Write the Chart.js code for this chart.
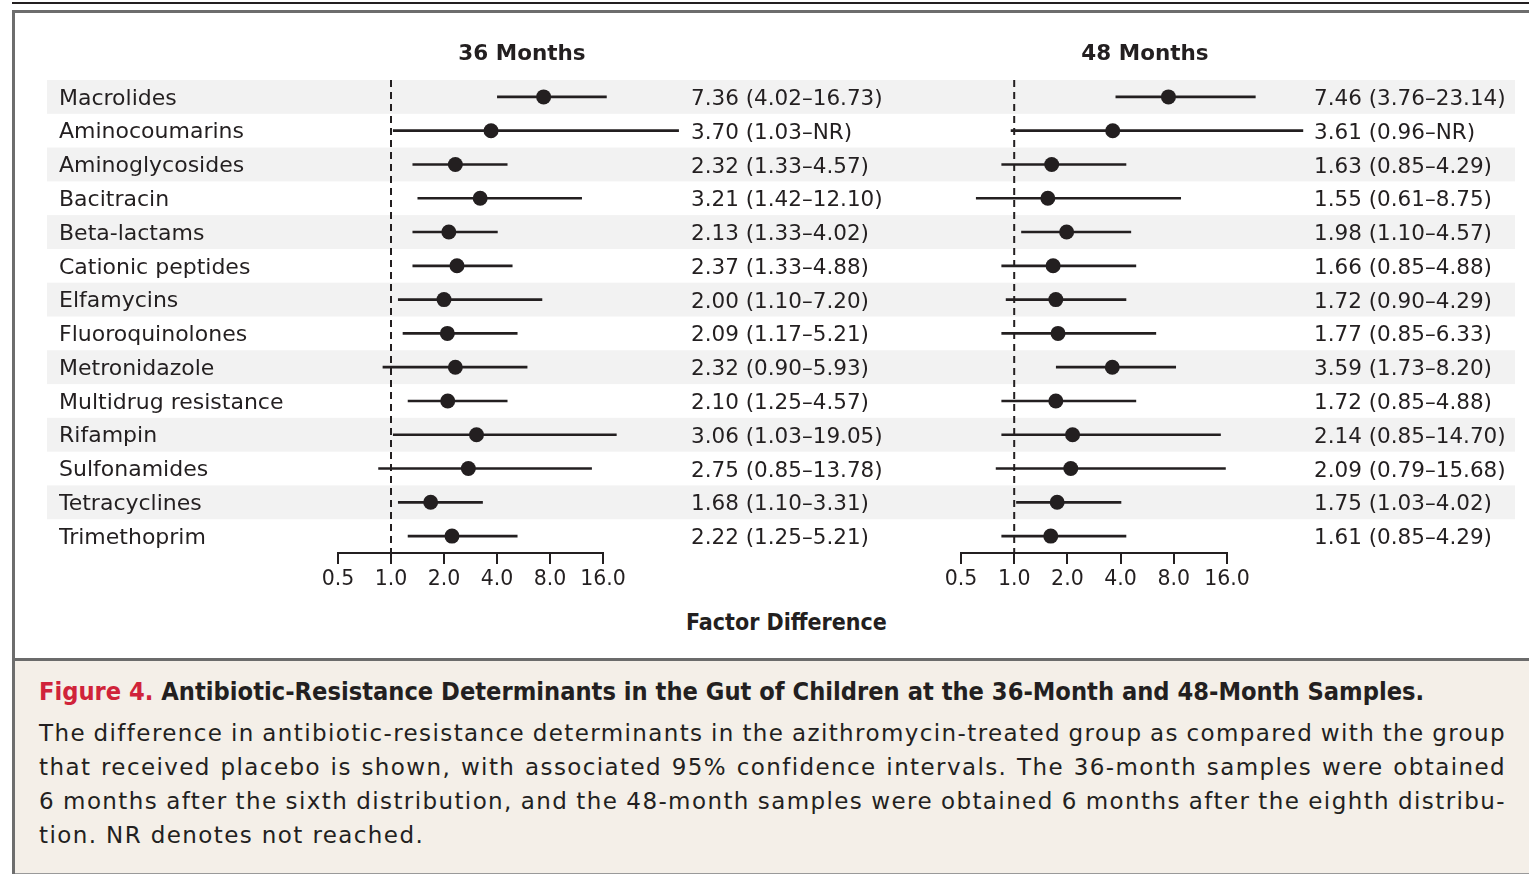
<!DOCTYPE html>
<html>
<head>
<meta charset="utf-8">
<script src="https://cdn.jsdelivr.net/npm/chart.js@4.4.1/dist/chart.umd.min.js"></script>
<style>
  body { margin:0; width:1529px; height:874px; overflow:hidden; background:#fff; position:relative;
         font-family:"DejaVu Sans", sans-serif; color:#231f20; }
  #topLine { position:absolute; left:12px; top:2px; width:1517px; height:2px; background:#231f20; }
  #frame { position:absolute; left:12px; top:10px; width:1517px; height:864px; box-sizing:border-box;
           border-top:3px solid #6d6d6d; border-left:3px solid #6d6d6d; }
  canvas { position:absolute; top:0; }
  #c36 { left:0; }
  #c48 { left:900px; }
  .panelTitle { position:absolute; top:39px; line-height:28px; font-weight:bold; font-size:21.5px;
                transform:translateX(-50%); white-space:nowrap; }
  #axisTitle { position:absolute; left:686px; top:607px; line-height:30px; font-family:"DejaVu Sans Condensed", sans-serif;
               font-weight:bold; font-size:23px; white-space:nowrap; }
  #caption { position:absolute; left:15px; top:658px; width:1514px; height:216px; box-sizing:border-box;
             background:#f4efe8; border-top:3px solid #6b6b6b; border-bottom:1px solid #9a9a9a; }
  #capTitle { position:absolute; left:24px; top:14px; line-height:34px; font-family:"DejaVu Sans Condensed", sans-serif;
              font-weight:bold; font-size:25.2px; white-space:nowrap; }
  #capTitle span { color:#d0233a; }
  .capLine { position:absolute; left:24px; line-height:34px; font-size:23px; letter-spacing:1.4px; white-space:nowrap; }
</style>
</head>
<body>
<div id="topLine"></div>
<div id="frame"></div>
<canvas id="c36" width="900" height="600"></canvas>
<canvas id="c48" width="629" height="600"></canvas>
<div class="panelTitle" style="left:522px">36 Months</div>
<div class="panelTitle" style="left:1145px">48 Months</div>
<div id="axisTitle">Factor Difference</div>
<div id="caption">
  <div id="capTitle"><span>Figure 4.</span> Antibiotic-Resistance Determinants in the Gut of Children at the 36-Month and 48-Month Samples.</div>
  <div class="capLine just" style="top:55px">The difference in antibiotic-resistance determinants in the azithromycin-treated group as compared with the group</div>
  <div class="capLine just" style="top:89px">that received placebo is shown, with associated 95% confidence intervals. The 36-month samples were obtained</div>
  <div class="capLine just" style="top:123px">6 months after the sixth distribution, and the 48-month samples were obtained 6 months after the eighth distribu-</div>
  <div class="capLine" style="top:157px">tion. NR denotes not reached.</div>
</div>
<script>
const categories = ['Macrolides', 'Aminocoumarins', 'Aminoglycosides', 'Bacitracin', 'Beta-lactams',
  'Cationic peptides', 'Elfamycins', 'Fluoroquinolones', 'Metronidazole', 'Multidrug resistance',
  'Rifampin', 'Sulfonamides', 'Tetracyclines', 'Trimethoprim'];

// 36 months: point estimate, lower and upper 95% CI (null = not reached)
const est36 = [7.36, 3.70, 2.32, 3.21, 2.13, 2.37, 2.00, 2.09, 2.32, 2.10, 3.06, 2.75, 1.68, 2.22];
const lo36  = [4.02, 1.03, 1.33, 1.42, 1.33, 1.33, 1.10, 1.17, 0.90, 1.25, 1.03, 0.85, 1.10, 1.25];
const hi36  = [16.73, null, 4.57, 12.10, 4.02, 4.88, 7.20, 5.21, 5.93, 4.57, 19.05, 13.78, 3.31, 5.21];

// 48 months
const est48 = [7.46, 3.61, 1.63, 1.55, 1.98, 1.66, 1.72, 1.77, 3.59, 1.72, 2.14, 2.09, 1.75, 1.61];
const lo48  = [3.76, 0.96, 0.85, 0.61, 1.10, 0.85, 0.90, 0.85, 1.73, 0.85, 0.85, 0.79, 1.03, 0.85];
const hi48  = [23.14, null, 4.29, 8.75, 4.57, 4.88, 4.29, 6.33, 8.20, 4.88, 14.70, 15.68, 4.02, 4.29];

const xTicks = [0.5, 1, 2, 4, 8, 16];
const nrShown = 43; // where the open-ended (NR) line stops in the figure

const ink = '#231f20';

// grey bands behind every other row
const stripes = {
  id: 'stripes',
  beforeDraw(chart, args, opts) {
    const {ctx, chartArea, scales: {y}} = chart;
    const band = (chartArea.bottom - chartArea.top) / categories.length;
    ctx.save();
    ctx.fillStyle = '#f2f2f2';
    categories.forEach((c, i) => {
      if (i % 2) return;
      const yc = y.getPixelForValue(i);
      ctx.fillRect(opts.from, yc - band / 2, opts.to - opts.from, band);
    });
    ctx.restore();
  }
};

// dashed line at factor difference = 1
const refLine = {
  id: 'refLine',
  beforeDatasetsDraw(chart) {
    const {ctx, chartArea, scales: {x}} = chart;
    const px = x.getPixelForValue(1);
    ctx.save();
    ctx.strokeStyle = ink;
    ctx.lineWidth = 2;
    ctx.setLineDash([7, 5]);
    ctx.beginPath();
    ctx.moveTo(px, chartArea.top);
    ctx.lineTo(px, chartArea.bottom);
    ctx.stroke();
    ctx.restore();
  }
};

// side axes: fixed width, and no extra top/bottom room for their labels
const fixSide = w => s => { s.width = w; s.paddingTop = 0; s.paddingBottom = 0; };

function makeForest(id, est, lo, hi, g) {
  const valueText = est.map((e, i) =>
    `${e.toFixed(2)} (${lo[i].toFixed(2)}–${hi[i] === null ? 'NR' : hi[i].toFixed(2)})`);

  return new Chart(document.getElementById(id), {
    type: 'bar',
    data: {
      labels: categories,
      datasets: [
        {
          type: 'scatter',
          data: est.map((v, i) => ({x: v, y: categories[i]})),
          pointRadius: 7.5,
          backgroundColor: ink,
          borderWidth: 0,
          order: 0
        },
        {
          data: lo.map((v, i) => [v, hi[i] === null ? nrShown : hi[i]]),
          backgroundColor: ink,
          barThickness: 2,
          borderWidth: 0,
          borderSkipped: false,
          clip: false,
          order: 1
        }
      ]
    },
    options: {
      indexAxis: 'y',
      responsive: false,
      animation: false,
      devicePixelRatio: 1,
      events: [],
      layout: {padding: {left: g.padLeft, top: 80, right: 0, bottom: 0}},
      plugins: {
        legend: {display: false},
        tooltip: {enabled: false},
        stripes: {from: g.stripeFrom, to: g.stripeTo}
      },
      scales: {
        x: {
          type: 'logarithmic',
          min: 0.5,
          max: 16,
          afterBuildTicks: s => { s.ticks = xTicks.map(v => ({value: v})); },
          afterFit: s => { s.height = 47; },
          grid: {display: true, drawOnChartArea: false, drawTicks: true, tickLength: 11, color: ink, lineWidth: 2},
          border: {display: true, color: ink, width: 2},
          ticks: {
            font: {family: 'DejaVu Sans', size: 20.5},
            color: ink,
            padding: 3,
            maxRotation: 0,
            autoSkip: false,
            callback: v => Number(v).toFixed(1)
          }
        },
        y: {
          type: 'category',
          offset: true,
          grid: {display: false, drawTicks: false},
          border: {display: false},
          afterFit: fixSide(g.yWidth),
          ticks: {display: g.showNames, autoSkip: false, crossAlign: 'far', padding: 0, labelOffset: 2,
                  color: ink, font: {family: 'DejaVu Sans', size: 22}}
        },
        y2: {
          type: 'category',
          position: 'right',
          labels: valueText,
          offset: true,
          grid: {display: false, drawTicks: false},
          border: {display: false},
          afterFit: fixSide(g.y2Width),
          ticks: {autoSkip: false, crossAlign: 'near', padding: g.y2Pad, labelOffset: 2.5,
                  color: ink, font: {family: 'DejaVu Sans', size: 21.5}}
        }
      }
    },
    plugins: [stripes, refLine]
  });
}

makeForest('c36', est36, lo36, hi36,
  {padLeft: 59, yWidth: 279, y2Width: 297, y2Pad: 88, showNames: true, stripeFrom: 47, stripeTo: 900});
makeForest('c48', est48, lo48, hi48,
  {padLeft: 0, yWidth: 61, y2Width: 302, y2Pad: 87, showNames: false, stripeFrom: 0, stripeTo: 615});

// justify the caption lines to the full text width
document.querySelectorAll('.capLine.just').forEach(el => {
  const spaces = el.textContent.split(' ').length - 1;
  const w = el.getBoundingClientRect().width;
  el.style.wordSpacing = ((1467 - w) / spaces) + 'px';
});
</script>
</body>
</html>
